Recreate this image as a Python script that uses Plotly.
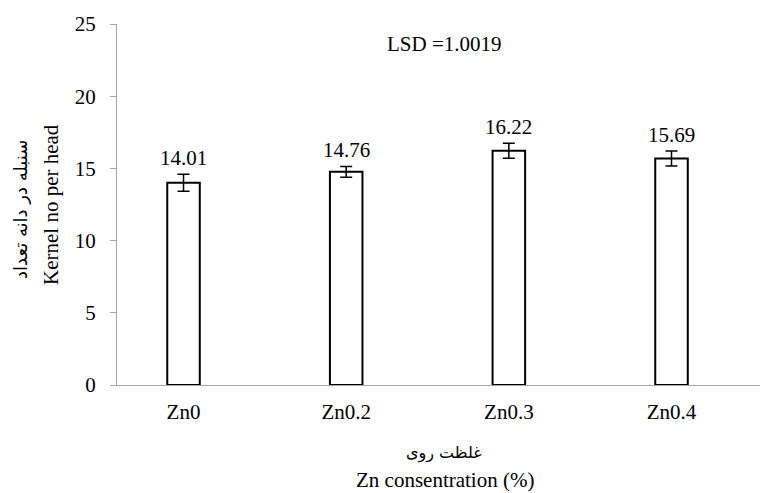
import plotly.graph_objects as go

categories = ["Zn0", "Zn0.2", "Zn0.3", "Zn0.4"]
values = [14.01, 14.76, 16.22, 15.69]
errors = [0.59, 0.38, 0.52, 0.52]
labels = ["14.01", "14.76", "16.22", "15.69"]
y_ticks = [0, 5, 10, 15, 20, 25]

SERIF = "Liberation Serif, Tinos, Times New Roman, serif"
ARABIC = "DejaVu Sans"

W, H = 760, 493
L, R, T, B = 117, 0, 24, 108
pw, ph = W - L - R, H - T - B


def px2paper(px, py):
    return (px - L) / pw, (H - B - py) / ph


fig = go.Figure()
fig.add_trace(go.Bar(
    x=categories, y=values, width=0.2,
    marker=dict(color="white", line=dict(color="black", width=2)),
    error_y=dict(type="data", array=errors, visible=True,
                 color="black", thickness=1.5, width=6),
    showlegend=False, hoverinfo="skip",
))

annotations = []
for cat, v, e, lab in zip(categories, values, errors, labels):
    annotations.append(dict(
        text=lab, x=cat, y=v + e, xref="x", yref="y",
        xanchor="center", yanchor="bottom", yshift=2,
        showarrow=False, font=dict(family=SERIF, size=21, color="black"),
    ))

ann_specs = [
    ("LSD =1.0019", 444, 44, 0, SERIF, 21),
    ("سنبله در دانه تعداد", 20, 210, -90, ARABIC, 18),
    ("Kernel no per head", 51, 205, -90, SERIF, 21),
    ("غلظت روی", 444, 453, 0, ARABIC, 16),
    ("Zn consentration (%)", 445, 480, 0, SERIF, 21),
]
for text, px, py, ang, fam, size in ann_specs:
    ax, ay = px2paper(px, py)
    annotations.append(dict(
        text=text, x=ax, y=ay, xref="paper", yref="paper",
        xanchor="center", yanchor="middle", textangle=ang,
        showarrow=False, font=dict(family=fam, size=size, color="black"),
    ))

fig.update_layout(
    template="none",
    width=W, height=H,
    margin=dict(l=L, r=R, t=T, b=B),
    paper_bgcolor="white", plot_bgcolor="white",
    font=dict(family=SERIF, size=21, color="black"),
    xaxis=dict(
        type="category", range=[-0.409, 3.544],
        showline=True, linecolor="#a6a6a6", linewidth=1.3,
        showgrid=False, zeroline=False, ticks="",
        tickfont=dict(family=SERIF, size=21, color="black"),
        ticklabelstandoff=8,
    ),
    yaxis=dict(
        range=[0, 25], tickvals=y_ticks,
        showline=True, linecolor="#a6a6a6", linewidth=1.3,
        showgrid=False, zeroline=False,
        ticks="outside", ticklen=6, tickcolor="#a6a6a6", tickwidth=1.3,
        tickfont=dict(family=SERIF, size=21, color="black"),
        ticklabelstandoff=10,
    ),
    annotations=annotations,
)

fig.write_html("out.html", config={"displayModeBar": False},
               post_script="document.body.style.margin='0';")
